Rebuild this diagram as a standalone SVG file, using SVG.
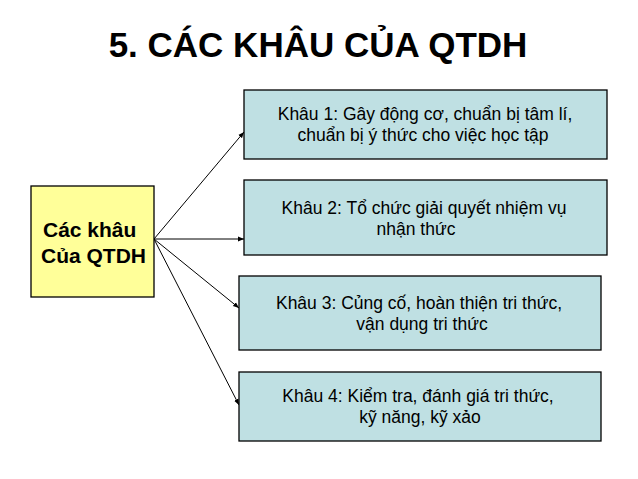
<svg xmlns="http://www.w3.org/2000/svg" width="638" height="479" viewBox="0 0 638 479">
<defs>
<marker id="ah" viewBox="0 0 10 10" refX="10" refY="5" markerWidth="6" markerHeight="6" orient="auto" markerUnits="userSpaceOnUse">
<path d="M0,1 L10,5 L0,9 z" fill="#000"/>
</marker>
<style>
.bx{fill:#BFE0E3;stroke:#000;stroke-width:1.3}
.yb{fill:#FFFF99;stroke:#000;stroke-width:1.3}
.t{font-family:"Liberation Sans",Arial,sans-serif;font-size:17.5px;fill:#000;text-anchor:middle}
.yt{font-family:"Liberation Sans",Arial,sans-serif;font-size:21px;font-weight:bold;fill:#000}
.ttl{font-family:"Liberation Sans",Arial,sans-serif;font-size:35px;font-weight:bold;fill:#000;text-anchor:middle}
.c{stroke:#000;stroke-width:1;fill:none;marker-end:url(#ah)}
</style>
</defs>
<rect width="638" height="479" fill="#fff"/>
<text class="ttl" x="318" y="57">5. CÁC KHÂU CỦA QTDH</text>
<g id="connectors">
<line class="c" x1="154" y1="239" x2="244" y2="132"/>
<line class="c" x1="154" y1="239" x2="244" y2="239"/>
<line class="c" x1="154" y1="239" x2="239" y2="308"/>
<line class="c" x1="154" y1="239" x2="239" y2="405"/>
</g>
<g id="root">
<rect class="yb" x="31" y="186" width="123" height="111"/>
<text class="yt" x="43" y="237">Các khâu</text>
<text class="yt" x="41" y="263">Của QTDH</text>
</g>
<g id="k1">
<rect class="bx" x="244" y="90" width="363" height="69"/>
<text class="t" x="425" y="120">Khâu 1: Gây động cơ, chuẩn bị tâm lí,</text>
<text class="t" x="423" y="141">chuẩn bị ý thức cho việc học tập</text>
</g>
<g id="k2">
<rect class="bx" x="244" y="180" width="363" height="75"/>
<text class="t" x="424" y="214">Khâu 2: Tổ chức giải quyết nhiệm vụ</text>
<text class="t" x="416" y="235">nhận thức</text>
</g>
<g id="k3">
<rect class="bx" x="239" y="276" width="362" height="74"/>
<text class="t" x="419" y="309">Khâu 3: Củng cố, hoàn thiện tri thức,</text>
<text class="t" x="422" y="330">vận dụng tri thức</text>
</g>
<g id="k4">
<rect class="bx" x="239" y="372" width="362" height="69"/>
<text class="t" x="418" y="402">Khâu 4: Kiểm tra, đánh giá tri thức,</text>
<text class="t" x="420" y="423">kỹ năng, kỹ xảo</text>
</g>
</svg>
